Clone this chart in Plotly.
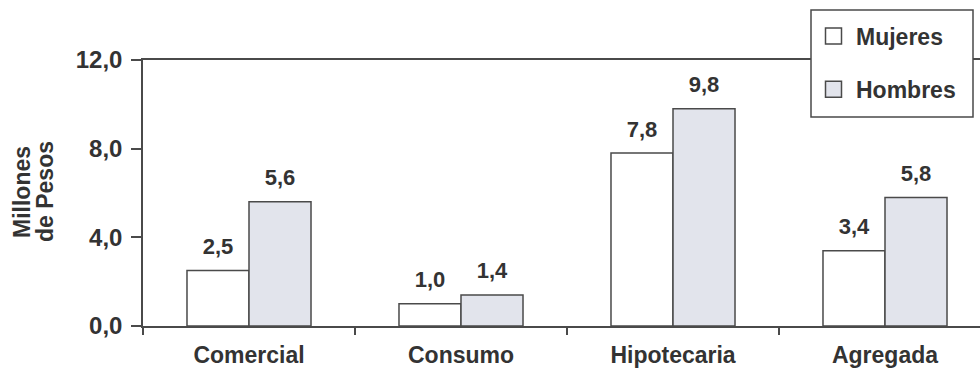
import plotly.graph_objects as go

categories = ["Comercial", "Consumo", "Hipotecaria", "Agregada"]
mujeres = [2.5, 1.0, 7.8, 3.4]
hombres = [5.6, 1.4, 9.8, 5.8]
series_names = ["Mujeres", "Hombres"]
y_ticks = [0, 4, 8, 12]
y_title_lines = ["Millones", "de Pesos"]

FONT = "Liberation Sans, Arial, sans-serif"
TXT = "#333333"
EDGE = "#4a4a4a"
FILLS = ["#ffffff", "#e2e4ec"]

W, H = 980, 368
ML, MR, MT, MB = 143, 0, 60, 42

fig = go.Figure()

for name, vals, fill in zip(series_names, [mujeres, hombres], FILLS):
    fig.add_trace(go.Bar(
        x=categories, y=vals, name=name, showlegend=False,
        marker=dict(color=fill, line=dict(color=EDGE, width=1.5)),
        offsetgroup=name, alignmentgroup="bars",
    ))

# value labels as grouped text scatter (aligned with bars)
for name, vals in zip(series_names, [mujeres, hombres]):
    fig.add_trace(go.Scatter(
        x=categories, y=vals, mode="markers+text", showlegend=False,
        texttemplate="%{y:.1f}", textposition="top center",
        marker=dict(size=16, opacity=0),
        textfont=dict(family=FONT, size=22, color=TXT, weight="bold"),
        offsetgroup=name, alignmentgroup="labels", cliponaxis=False,
        hoverinfo="skip",
    ))

# legend entries
for gi, (name, fill) in enumerate(zip(series_names, FILLS)):
    fig.add_trace(go.Scatter(
        x=[None], y=[None], mode="markers", name=name,
        marker=dict(symbol="square", size=16, color=fill, line=dict(color=EDGE, width=1.5)),
        legendgroup=f"g{gi}", alignmentgroup="legend",
    ))

plot_w = W - ML - MR
plot_h = H - MT - MB
n_units = plot_w / 212.0


def px_x(px):
    return (px - ML) / plot_w


def px_y(py):
    return (H - MB - py) / plot_h


fig.update_layout(
    width=W, height=H,
    margin=dict(l=ML, r=MR, t=MT, b=MB, autoexpand=False),
    paper_bgcolor="white", plot_bgcolor="white",
    separators=",.",
    barmode="group", bargap=0.415, bargroupgap=0,
    scattermode="group", scattergap=0.415,
    font=dict(family=FONT, color=TXT, size=22, weight="bold"),
    showlegend=True,
    legend=dict(
        x=px_x(811), y=px_y(14.5),
        xanchor="left", yanchor="top",
        bgcolor="rgba(0,0,0,0)", borderwidth=0,
        font=dict(family=FONT, size=23, color=TXT, weight="bold"),
        traceorder="grouped", tracegroupgap=20.5, itemwidth=35,
    ),
    xaxis=dict(
        type="category", range=[-0.5, -0.5 + n_units],
        showline=True, linecolor=EDGE, linewidth=1.5, mirror=True,
        ticks="outside", tickson="boundaries", ticklen=7, tickwidth=1.5, tickcolor=EDGE,
        showgrid=False, zeroline=False,
        tickfont=dict(family=FONT, size=23, color=TXT, weight="bold"),
        ticklabelstandoff=8,
    ),
    yaxis=dict(
        range=[0, 12], tickvals=y_ticks, tickformat=".1f",
        showline=True, linecolor=EDGE, linewidth=1.5,
        ticks="outside", ticklen=10, tickwidth=1.5, tickcolor=EDGE,
        showgrid=False, zeroline=False,
        tickfont=dict(family=FONT, size=24, color=TXT, weight="bold"),
        ticklabelstandoff=4,
    ),
)

# legend frame
fig.add_shape(
    type="rect", xref="paper", yref="paper", layer="above",
    x0=px_x(811), x1=px_x(973), y0=px_y(117), y1=px_y(10),
    fillcolor="white", line=dict(color=EDGE, width=1.5),
)

for i, line in enumerate(y_title_lines):
    fig.add_annotation(
        text=line, textangle=-90, showarrow=False,
        xref="paper", yref="paper",
        x=px_x(22 + 23 * i), y=px_y(192),
        xanchor="center", yanchor="middle",
        font=dict(family=FONT, size=23, color=TXT, weight="bold"),
    )

fig.write_html("out.html")
